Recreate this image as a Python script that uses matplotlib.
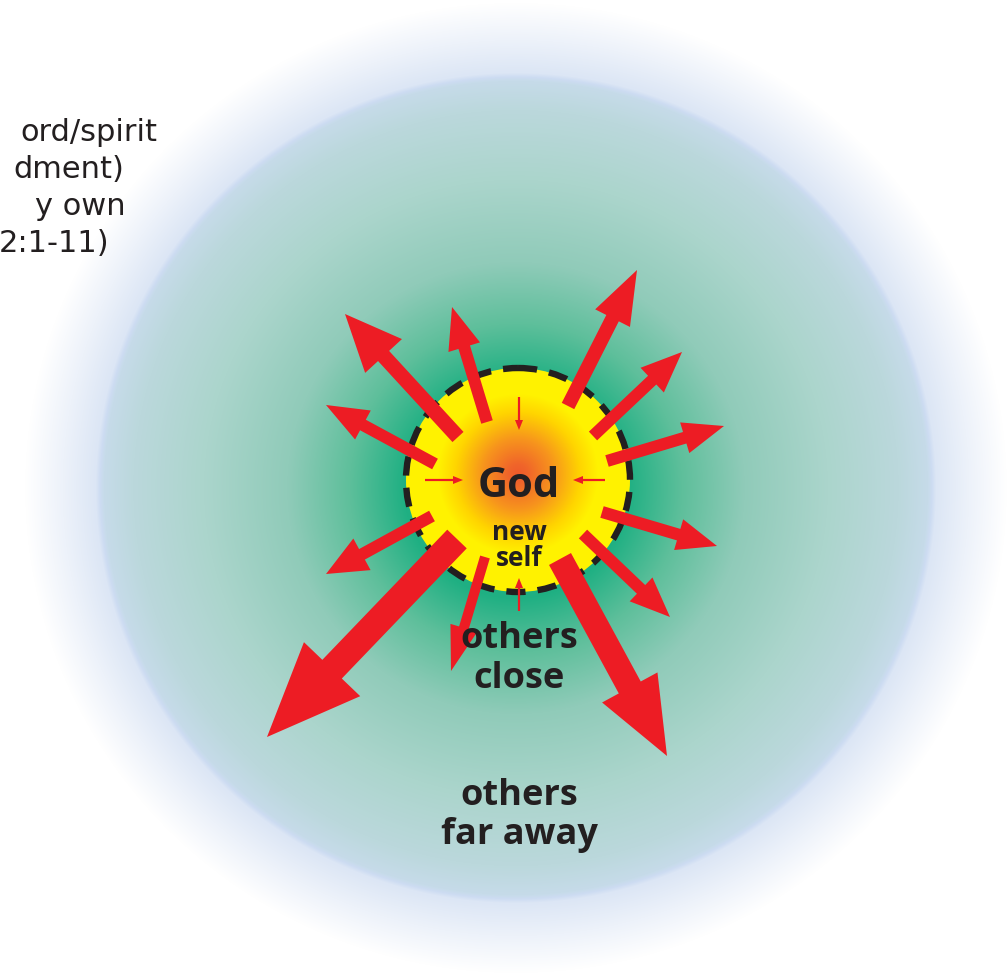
import numpy as np
import matplotlib
matplotlib.use("Agg")
import matplotlib.pyplot as plt
from matplotlib.patches import Circle, FancyArrow
from matplotlib.colors import to_rgb

W, H = 1008, 979
FONT = ["Open Sans", "DejaVu Sans"]
INK = "#231f20"
RED = "#ed1c24"

# outward arrows: tail, tip, shaft width, head width, head length (pixels)
arrow_tails = [(458, 438), (487, 423), (435, 465), (568, 407), (593, 437), (607, 462),
               (602, 513), (583, 535), (560, 560), (457, 540), (432, 517), (485, 558)]
arrow_tips = [(345, 315), (452, 308), (326, 406), (637, 271), (682, 353), (724, 427),
              (717, 547), (670, 618), (667, 757), (267, 738), (326, 575), (451, 672)]
shaft_w = [15, 12, 12, 14, 12, 12, 12, 12, 25, 27, 12, 10]
head_w = [50, 33, 33, 39, 34, 32, 32, 33, 63, 78, 36, 28]
head_l = [57, 42, 42, 54, 41, 41, 40, 40, 78, 94, 41, 45]

# small inward arrows
small_tails = [(519, 398), (425, 481), (605, 481), (519, 612)]
small_tips = [(519, 431), (463, 481), (573, 481), (519, 579)]

# centre labels: text, baseline y, size
labels = ["God", "new", "self", "others", "close", "others", "far away"]
label_y = [497, 540, 566, 648, 688, 805, 844]
label_size = [30, 19, 19, 26, 26, 26, 26]

# left-hand clipped text lines (right edge x, baseline y)
side_lines = ["ord/spirit", "dment)", "y own", "2:1-11)"]
side_right = [157, 124, 126, 109]
side_y = [141, 178, 215, 252]


def radial(r, stops, colors):
    rgb = np.array([to_rgb(c) for c in colors])
    return np.dstack([np.interp(r, stops, rgb[:, k]) for k in range(3)])


fig = plt.figure(figsize=(W / 100, H / 100), dpi=100)
ax = fig.add_axes([0, 0, 1, 1])
ax.set_xlim(0, W)
ax.set_ylim(H, 0)
ax.axis("off")

yy, xx = np.mgrid[0:H, 0:W] + 0.5

# big background circle
r = np.sqrt(((xx - 516) / 416) ** 2 + ((yy - 489) / 411) ** 2)
bg = radial(r, [0, 0.27, 0.4, 0.55, 0.75, 0.92, 0.99, 1.0, 1.01, 1.09, 1.18],
            ["#0fab77", "#20b083", "#5ebf9b", "#90cbb9", "#abd5cc", "#bbd8dc",
             "#c6dbe9", "#cddcf2", "#dce6f5", "#edf2fa", "#ffffff"])
ax.imshow(bg, extent=(0, W, H, 0), zorder=0, interpolation="bilinear")

# yellow / orange sun
cx, cy, R = 518, 481, 112
rs = np.sqrt((xx - cx) ** 2 + (yy - (cy - 6)) ** 2)
sun = radial(rs, [0, 10, 35, 62, 80, 200],
             ["#ef5a2a", "#f0652a", "#f7941d", "#ffd400", "#fff200", "#fff200"])
im = ax.imshow(sun, extent=(0, W, H, 0), zorder=1, interpolation="bilinear")
im.set_clip_path(Circle((cx, cy), R, transform=ax.transData))

ax.add_patch(Circle((cx, cy), R, fill=False, ec=INK, lw=4.6,
                    linestyle=(0, (3.0, 1.9)), zorder=2))

for (x0, y0), (x1, y1), sw, hw, hl in zip(arrow_tails, arrow_tips, shaft_w, head_w, head_l):
    ax.add_patch(FancyArrow(x0, y0, x1 - x0, y1 - y0, width=sw, head_width=hw,
                            head_length=hl, length_includes_head=True,
                            fc=RED, ec="none", zorder=3))

for (x0, y0), (x1, y1) in zip(small_tails, small_tips):
    ax.add_patch(FancyArrow(x0, y0, x1 - x0, y1 - y0, width=2.2, head_width=8,
                            head_length=10, length_includes_head=True,
                            fc=RED, ec="none", zorder=3))

for txt, yb, fs in zip(labels, label_y, label_size):
    ax.text(519, yb, txt, family=FONT, weight="bold", fontsize=fs, color=INK,
            ha="center", va="baseline", zorder=5)

for txt, xr, yb in zip(side_lines, side_right, side_y):
    ax.text(xr, yb, txt, family=["DejaVu Sans"], fontsize=22, color=INK,
            ha="right", va="baseline", zorder=5)

fig.savefig("out.png", dpi=100)
